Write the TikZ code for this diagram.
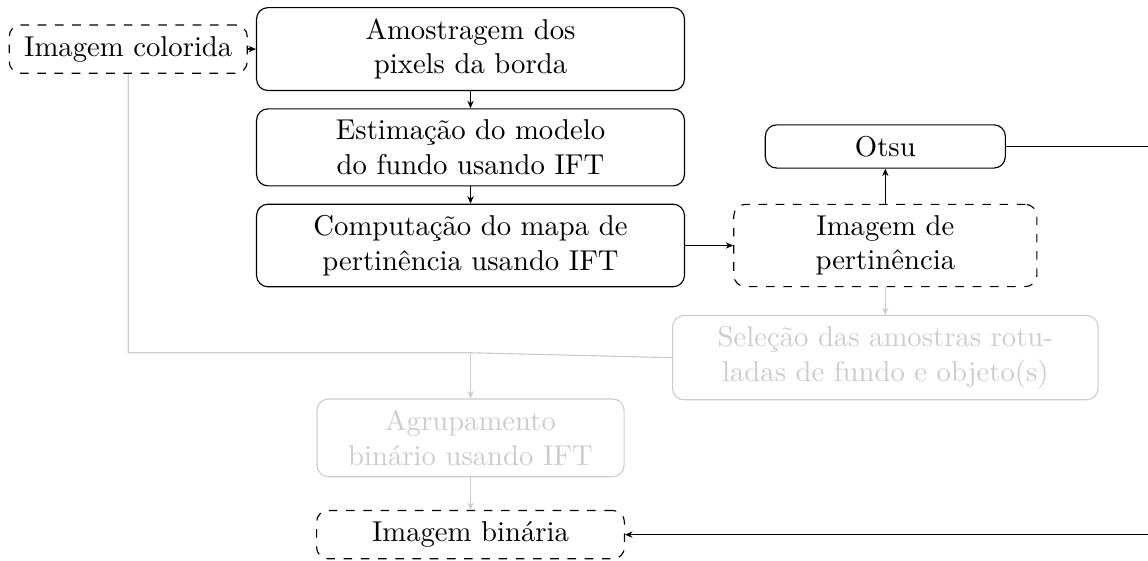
\documentclass[tikz,border=0pt]{standalone}
\usetikzlibrary{arrows.meta,positioning}
\definecolor{fadegray}{gray}{0.8}
\tikzset{
  block/.style={draw=black,rounded corners=4pt,align=center,
                inner xsep=4pt,inner ysep=3.9pt},
  datum/.style={block,dashed},
  faded/.style={block,draw=fadegray,text=fadegray},
  flow/.style={-{Stealth[length=2.6pt,width=2.2pt]},draw=black},
  fadeflow/.style={-{Stealth[length=2.6pt,width=2.2pt]},draw=fadegray}
}

\begin{document}
\begin{tikzpicture}[
  node distance=2.1mm,
  stage/.style={block,text width=4.96cm}
]
  \useasboundingbox (0,0) rectangle (14.06,-6.86);
  \node[stage,anchor=north west] (amostra) at (3.135,-0.086)
    {Amostragem dos\\pixels da borda};
  \node[datum,minimum width=2.915cm,left=1mm of amostra] (colorida) {Imagem colorida};
  \node[stage,below=of amostra] (estima)
    {Estimação do modelo\\do fundo usando IFT};
  \node[stage,below=of estima] (computa)
    {Computação do mapa de\\pertinência usando IFT};
  \node[datum,text width=3.43cm,right=5.9mm of computa] (pertin)
    {Imagem de\\pertinência};
  \node[block,minimum width=2.94cm,above=4.3mm of pertin] (otsu) {Otsu};
  \node[faded,text width=4.93cm,below=3.4mm of pertin] (selecao)
    {Seleção das amostras rotu-\\ladas de fundo e objeto(s)};
  \node[faded,text width=3.48cm,below=13.6mm of computa] (agrupa)
    {Agrupamento\\binário usando IFT};
  \node[datum,minimum width=3.77cm,below=4.0mm of agrupa] (binaria)
    {Imagem binária};
  \coordinate (junc) at ([yshift=0.6mm]selecao.west -| agrupa.north);
  \coordinate (turn) at ([xshift=1.8cm]otsu.east);

  \draw[flow] (colorida) -- (amostra);
  \foreach \a/\b in {amostra/estima,estima/computa,computa/pertin,pertin/otsu}
    \draw[flow] (\a) -- (\b);
  \draw[fadeflow] (pertin) -- (selecao);
  \draw[draw=fadegray] (colorida) |- (junc) -- (selecao.west);
  \draw[fadeflow] (junc) -- (agrupa);
  \draw[fadeflow] (agrupa) -- (binaria);
  \draw[flow] (otsu.east) -- (turn) |- (binaria.east);
\end{tikzpicture}
\end{document}
